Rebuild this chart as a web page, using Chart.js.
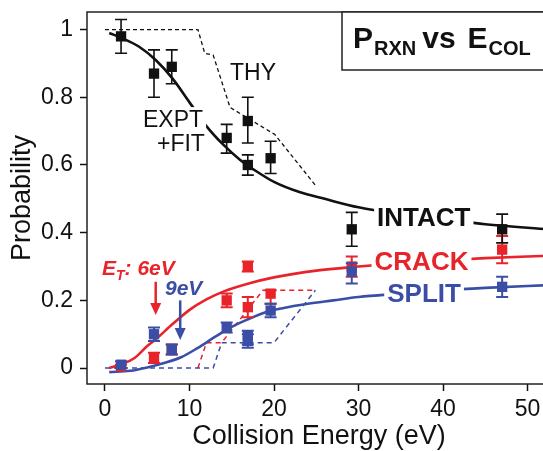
<!DOCTYPE html>
<html lang="en">
<head>
<meta charset="UTF-8">
<title>P_RXN vs E_COL</title>
<style>
  html, body { margin: 0; padding: 0; background: #fff; overflow: hidden; }
  .wrap { position: relative; width: 560px; height: 451px; }
</style>
<script src="https://cdn.jsdelivr.net/npm/chart.js"></script>
</head>
<body>
<div class="wrap"><canvas id="chart"></canvas></div>
<script>
const FONT = "'Liberation Sans', Arial, Helvetica, sans-serif";
const RED = '#e8232a';
const BLUE = '#3a4ea6';
const INK = '#111';

const xTicks = [0, 10, 20, 30, 40, 50];
const yTicks = [0, 0.2, 0.4, 0.6, 0.8, 1];

// measured points (collision energy, eV)
const expX = [1.9, 5.8, 7.9, 14.4, 16.9, 16.9, 19.6, 29.2, 47];
const intactY  = [0.98, 0.87, 0.89, 0.68, 0.73, 0.60, 0.62, 0.41, 0.41];
const intactLo = [0.93, 0.80, 0.84, 0.635, 0.665, 0.57, 0.575, 0.36, 0.37];
const intactHi = [1.03, 0.94, 0.94, 0.72, 0.80, 0.63, 0.67, 0.46, 0.455];
const crackY   = [0.005, 0.03, 0.055, 0.20, 0.30, 0.18, 0.22, 0.30, 0.35];
const crackLo  = [0, 0.015, 0.04, 0.18, 0.285, 0.15, 0.19, 0.27, 0.31];
const crackHi  = [0.01, 0.045, 0.07, 0.22, 0.315, 0.21, 0.23, 0.33, 0.39];
const splitY   = [0.01, 0.10, 0.055, 0.12, 0.095, 0.08, 0.17, 0.285, 0.24];
const splitLo  = [0, 0.08, 0.04, 0.105, 0.07, 0.06, 0.15, 0.25, 0.21];
const splitHi  = [0.02, 0.12, 0.07, 0.135, 0.11, 0.10, 0.19, 0.31, 0.27];

// fitted curves
const fitIntactX = [0.5, 2, 4, 6, 8, 10, 12, 14, 16, 18, 20, 23, 26, 30, 35, 40, 45, 52.5];
const fitIntactY = [0.99, 0.975, 0.95, 0.91, 0.855, 0.785, 0.715, 0.66, 0.615, 0.58, 0.55, 0.52, 0.50, 0.475, 0.455, 0.44, 0.425, 0.41];
const fitCrackX = [0.5, 2, 3.5, 5, 6, 8, 10, 12, 14, 17, 20, 25, 30, 35, 40, 45, 52.5];
const fitCrackY = [0, 0.012, 0.03, 0.065, 0.085, 0.13, 0.172, 0.203, 0.226, 0.25, 0.268, 0.288, 0.30, 0.31, 0.318, 0.325, 0.332];
const fitSplitX = [0.5, 3, 5, 7, 9, 11, 13, 15, 17, 19, 21, 24, 27, 30, 35, 40, 45, 52.5];
const fitSplitY = [-0.012, -0.008, 0.002, 0.015, 0.032, 0.06, 0.092, 0.122, 0.145, 0.165, 0.177, 0.19, 0.2, 0.21, 0.22, 0.23, 0.237, 0.245];

// theory (dashed)
const thyX = [0, 11, 11.8, 12.8, 14.8, 16.8, 20.1, 24.9];
const thyY = [1, 1, 0.93, 0.925, 0.77, 0.74, 0.69, 0.54];
const thyCrackX = [11, 12, 13.8, 18.7, 24.9];
const thyCrackY = [0, 0.075, 0.075, 0.23, 0.23];
const thySplitX = [0, 12.8, 13.8, 20, 24.9];
const thySplitY = [0, 0, 0.075, 0.075, 0.23];

const pts = (xs, ys) => xs.map((x, i) => ({x: x, y: ys[i]}));

function marks(data, color, lo, hi, width) {
  return {
    data: data, backgroundColor: color, borderWidth: 0,
    pointStyle: 'rect', pointRadius: 7.3, errLo: lo, errHi: hi, errWidth: width
  };
}
function curve(data, color, width, dash) {
  return {
    data: data, showLine: true, borderColor: color, borderWidth: width,
    borderDash: dash || [], pointRadius: 0, fill: false,
    tension: dash ? 0 : 0.4, cubicInterpolationMode: dash ? 'default' : 'monotone'
  };
}

const datasets = [
  marks(pts(expX, intactY), INK, intactLo, intactHi, 1.6),
  marks(pts(expX, splitY), BLUE, splitLo, splitHi, 2),
  marks(pts(expX, crackY), RED, crackLo, crackHi, 2),
  curve(pts(fitIntactX, fitIntactY), INK, 2.6),
  curve(pts(fitCrackX, fitCrackY), RED, 2.6),
  curve(pts(fitSplitX, fitSplitY), BLUE, 2.6),
  curve(pts(thyX, thyY), INK, 1.3, [4, 3]),
  curve(pts(thySplitX, thySplitY), BLUE, 1.5, [5, 4]),
  curve(pts(thyCrackX, thyCrackY), RED, 1.5, [5, 4])
];

const errorBars = {
  id: 'errorBars',
  beforeDatasetDraw(chart, args) {
    const ds = chart.data.datasets[args.index];
    if (!ds.errLo) return;
    const xs = chart.scales.x, ys = chart.scales.y, ctx = chart.ctx;
    ctx.save();
    ctx.strokeStyle = ds.backgroundColor;
    ctx.lineWidth = ds.errWidth;
    ds.data.forEach((p, i) => {
      const px = xs.getPixelForValue(p.x);
      const top = ys.getPixelForValue(ds.errHi[i]);
      const bot = ys.getPixelForValue(ds.errLo[i]);
      ctx.beginPath();
      ctx.moveTo(px, top); ctx.lineTo(px, bot);
      ctx.moveTo(px - 6, top); ctx.lineTo(px + 6, top);
      ctx.moveTo(px - 6, bot); ctx.lineTo(px + 6, bot);
      ctx.stroke();
    });
    ctx.restore();
  }
};

function label(ctx, txt, x, y, font, color, box) {
  ctx.font = font;
  const w = ctx.measureText(txt).width;
  if (box) {
    ctx.fillStyle = '#fff';
    ctx.fillRect(x - 3, y - box, w + 6, box + 4);
  }
  ctx.fillStyle = color;
  ctx.fillText(txt, x, y);
  return w;
}

// text labels drawn over the curves but under the markers
const annotations = {
  id: 'annotations',
  afterDatasetDraw(chart, args) {
    if (args.index !== 3) return;
    const xs = chart.scales.x, ys = chart.scales.y, ctx = chart.ctx;
    const X = v => xs.getPixelForValue(v), Y = v => ys.getPixelForValue(v);
    ctx.save();
    ctx.textBaseline = 'alphabetic';
    ctx.textAlign = 'left';
    label(ctx, 'THY', X(14.8), Y(0.851), '23px ' + FONT, INK);
    label(ctx, 'EXPT', X(4.5), Y(0.712), '23px ' + FONT, INK, 20);
    label(ctx, '+FIT', X(6.15), Y(0.641), '23px ' + FONT, INK);
    label(ctx, 'INTACT', X(32.2), Y(0.42), 'bold 26px ' + FONT, INK, 22);
    label(ctx, 'CRACK', X(31.9), Y(0.289), 'bold 26px ' + FONT, RED, 22);
    label(ctx, 'SPLIT', X(33.4), Y(0.195), 'bold 26px ' + FONT, BLUE, 22);

    // threshold arrows
    const arrow = (x, y0, y1, color) => {
      ctx.strokeStyle = color; ctx.fillStyle = color; ctx.lineWidth = 2.5;
      ctx.beginPath(); ctx.moveTo(X(x), Y(y0)); ctx.lineTo(X(x), Y(y1) - 10); ctx.stroke();
      ctx.beginPath();
      ctx.moveTo(X(x) - 5.5, Y(y1) - 12); ctx.lineTo(X(x) + 5.5, Y(y1) - 12); ctx.lineTo(X(x), Y(y1));
      ctx.closePath(); ctx.fill();
    };
    arrow(6.0, 0.255, 0.157, RED);
    arrow(8.9, 0.2, 0.083, BLUE);

    let x0 = X(-0.35);
    const yb = Y(0.275);
    x0 += label(ctx, 'E', x0, yb, 'italic bold 21px ' + FONT, RED);
    x0 += label(ctx, 'T', x0, yb + 5, 'italic bold 14px ' + FONT, RED);
    label(ctx, ': 6eV', x0, yb, 'italic bold 21px ' + FONT, RED);
    label(ctx, '9eV', X(7.1), Y(0.216), 'italic bold 21px ' + FONT, BLUE);
    ctx.restore();
  }
};

const frame = {
  id: 'frame',
  afterDraw(chart) {
    const a = chart.chartArea, ctx = chart.ctx;
    ctx.save();
    ctx.strokeStyle = '#222';
    ctx.lineWidth = 1.5;
    ctx.strokeRect(a.left, a.top, a.right - a.left, a.bottom - a.top);
    // title box
    const bx = 342, by = a.top, bh = 58;
    ctx.fillStyle = '#fff';
    ctx.fillRect(bx, by, 300, bh);
    ctx.strokeRect(bx, by, 300, bh);
    ctx.textBaseline = 'alphabetic';
    let x = 353;
    x += label(ctx, 'P', x, 48, 'bold 30px ' + FONT, INK);
    x += label(ctx, 'RXN', x + 1, 55, 'bold 20px ' + FONT, INK) + 7;
    x += label(ctx, 'vs', x, 48, 'bold 30px ' + FONT, INK) + 12;
    x += label(ctx, 'E', x, 48, 'bold 30px ' + FONT, INK);
    label(ctx, 'COL', x + 1, 55, 'bold 20px ' + FONT, INK);
    ctx.restore();
  }
};

new Chart(document.getElementById('chart'), {
  type: 'scatter',
  data: { datasets: datasets },
  options: {
    responsive: true,
    maintainAspectRatio: false,
    animation: false,
    events: [],
    layout: { padding: { top: 12, right: 9, left: 0, bottom: 0 } },
    plugins: { legend: { display: false }, tooltip: { enabled: false } },
    scales: {
      x: {
        type: 'linear', min: -2.13, max: 52.78,
        afterBuildTicks: s => { s.ticks = xTicks.map(v => ({value: v})); },
        afterFit: s => { s.height = 67; s.paddingLeft = 0; s.paddingRight = 0; },
        grid: { drawOnChartArea: false, tickLength: 7, tickColor: INK, tickWidth: 1.5 },
        border: { display: false },
        ticks: { color: INK, font: { family: FONT, size: 23 }, padding: 5, maxRotation: 0,
                 callback: v => String(v) },
        title: { display: true, text: 'Collision Energy (eV)', color: INK,
                 font: { family: FONT, size: 27, lineHeight: 1 }, padding: { top: 0, bottom: 1 } }
      },
      y: {
        type: 'linear', min: -0.047, max: 1.052,
        afterBuildTicks: s => { s.ticks = yTicks.map(v => ({value: v})); },
        afterFit: s => { s.width = 87; s.paddingTop = 0; s.paddingBottom = 0; },
        grid: { drawOnChartArea: false, tickLength: 7, tickColor: INK, tickWidth: 1.5 },
        border: { display: false },
        ticks: { color: INK, font: { family: FONT, size: 23 }, padding: 7,
                 callback: v => String(v) },
        title: { display: true, text: 'Probability', color: INK,
                 font: { family: FONT, size: 27, lineHeight: 1 }, padding: { top: 9, bottom: 0 } }
      }
    }
  },
  plugins: [errorBars, annotations, frame]
});
</script>
</body>
</html>
